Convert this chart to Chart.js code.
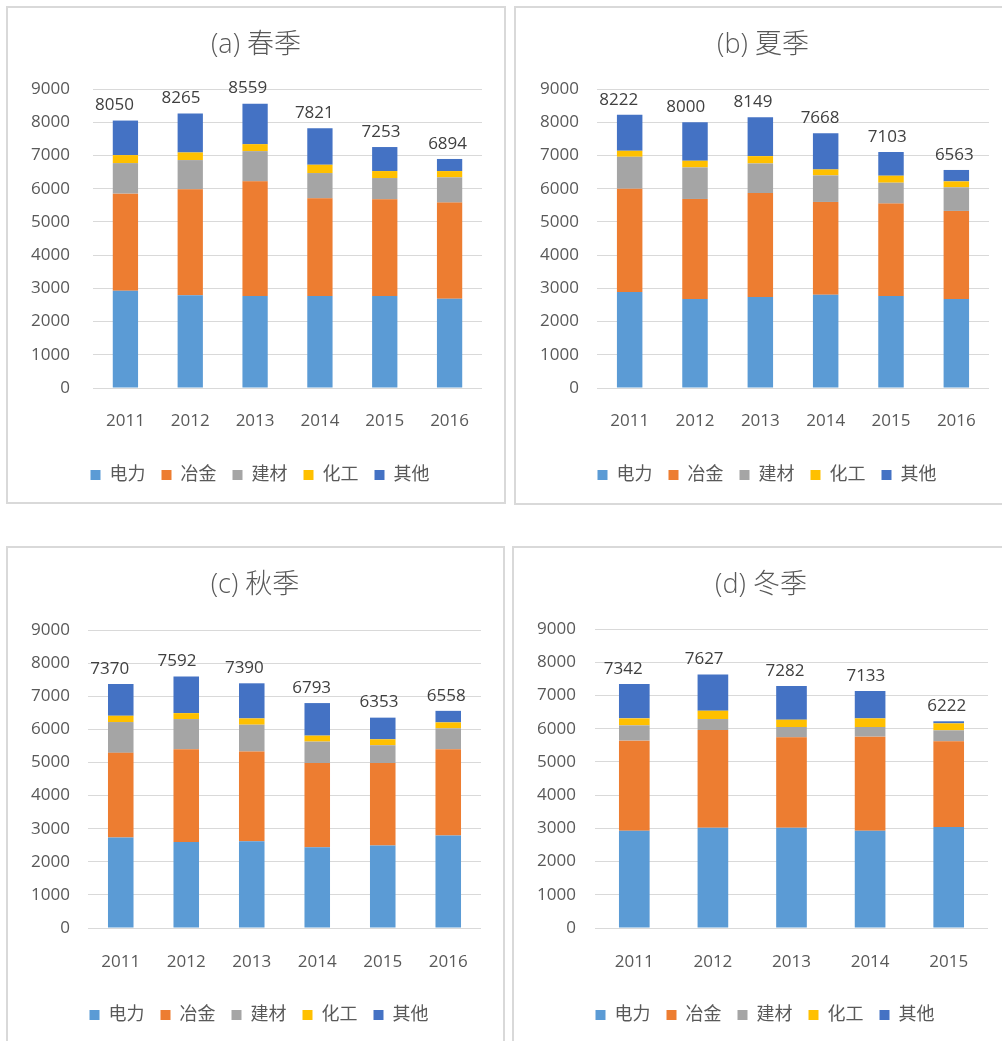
<!DOCTYPE html>
<html>
<head>
<meta charset="utf-8">
<script src="https://cdn.jsdelivr.net/npm/chart.js@4.4.1/dist/chart.umd.min.js"></script>
<style>
  html, body { margin: 0; padding: 0; background: #fff; overflow: hidden; }
  body { width: 1002px; height: 1041px; position: relative; }
  .panel { position: absolute; border: 2px solid #d9d9d9; box-sizing: border-box; }
  canvas { position: absolute; }
</style>
</head>
<body>
<div class="panel" id="boxA"></div>
<div class="panel" id="boxB"></div>
<div class="panel" id="boxC"></div>
<div class="panel" id="boxD"></div>
<canvas id="chartA"></canvas>
<canvas id="chartB"></canvas>
<canvas id="chartC"></canvas>
<canvas id="chartD"></canvas>
<script>
// categories
const years6 = ['2011', '2012', '2013', '2014', '2015', '2016'];
const years5 = ['2011', '2012', '2013', '2014', '2015'];
const sectors = ['电力', '冶金', '建材', '化工', '其他'];
const yTicks = [0, 1000, 2000, 3000, 4000, 5000, 6000, 7000, 8000, 9000];

// (a) 春季
const springPower = [2930, 2790, 2770, 2770, 2770, 2690];
const springMetal = [2920, 3190, 3450, 2940, 2910, 2890];
const springBuild = [920, 880, 910, 760, 640, 760];
const springChem  = [240, 230, 210, 250, 210, 190];
const springOther = [1040, 1175, 1219, 1101, 723, 364];

// (b) 夏季
const summerPower = [2890, 2680, 2740, 2810, 2770, 2680];
const summerMetal = [3110, 3010, 3130, 2790, 2780, 2650];
const summerBuild = [960, 950, 890, 800, 630, 710];
const summerChem  = [180, 200, 220, 180, 210, 180];
const summerOther = [1082, 1160, 1169, 1088, 713, 343];

// (c) 秋季
const autumnPower = [2730, 2600, 2620, 2440, 2490, 2790];
const autumnMetal = [2560, 2800, 2710, 2540, 2490, 2610];
const autumnBuild = [930, 910, 810, 650, 540, 630];
const autumnChem  = [190, 180, 190, 180, 180, 180];
const autumnOther = [960, 1102, 1060, 983, 653, 348];

// (d) 冬季
const winterPower = [2930, 3020, 3020, 2930, 3040];
const winterMetal = [2710, 2940, 2720, 2830, 2580];
const winterBuild = [460, 330, 310, 290, 330];
const winterChem  = [210, 250, 220, 260, 210];
const winterOther = [1032, 1087, 1012, 823, 62];

const colors = ['#5b9bd5', '#ed7d31', '#a5a5a5', '#ffc000', '#4472c4'];
const FONT = '"Open Sans", "Noto Sans CJK SC", sans-serif';
const TEXT = '#595959';

// stack totals written above each bar
const totalLabels = {
  id: 'totalLabels',
  afterDatasetsDraw(chart) {
    const ctx = chart.ctx;
    const sets = chart.data.datasets;
    const top = chart.getDatasetMeta(sets.length - 1);
    const n = chart.data.labels.length;
    ctx.save();
    ctx.font = '17px ' + FONT;
    ctx.fillStyle = '#404040';
    ctx.textAlign = 'center';
    ctx.textBaseline = 'middle';
    top.data.forEach((bar, i) => {
      const total = sets.reduce((s, d) => s + d.data[i], 0);
      const dx = -11 + 9 * i / (n - 1);
      ctx.fillText(String(total), bar.x + dx, bar.y - 15);
    });
    ctx.restore();
  }
};

// move the title and legend boxes sideways so they centre on a given x
function moveBox(b, x) {
  if (!b || x == null) return;
  const d = x - (b.left + b.right) / 2;
  b.left += d;
  b.right += d;
}
const centerShift = {
  id: 'centerShift',
  afterLayout(chart, args, opts) {
    moveBox(chart.titleBlock, opts.titleX);
    moveBox(chart.legend, opts.legendX);
  }
};

function drawPanel(p) {
  const box = document.getElementById(p.box);
  box.style.left = p.rect[0] + 'px';
  box.style.top = p.rect[1] + 'px';
  box.style.width = p.rect[2] + 'px';
  box.style.height = p.rect[3] + 'px';

  const cl = p.rect[0] + 2, ct = p.rect[1] + 2;
  const cw = p.rect[2] - 4, ch = p.rect[3] - 4;
  const canvas = document.getElementById(p.canvas);
  canvas.style.left = cl + 'px';
  canvas.style.top = ct + 'px';
  canvas.width = cw;
  canvas.height = ch;

  // work out paddings so the plot area sits where it should
  const aL = p.area.l - cl, aR = p.area.r - cl, aT = p.area.t - ct, aB = p.area.b - ct;
  const padR = cw - aR;
  const padL = 0;
  const yW = aL - padL;
  const yPad = aL - (p.tickRight - cl);
  const titleSize = 27, titleLH = titleSize * 1.2;
  const tY = p.titleY + 2 - ct;
  const legSize = 18, legPad = 16;
  const legTop = (p.legendY + 2 - ct) - legPad - legSize / 2;
  const legH = legSize + legPad + 10;
  const xH = legTop - aB;
  const xPad = (p.xLabelY - p.area.b) - 17 * 1.2 / 2 - 7;

  const series = p.values;
  new Chart(canvas.getContext('2d'), {
    type: 'bar',
    data: {
      labels: p.labels,
      datasets: sectors.map((name, k) => ({
        label: name,
        data: series[k],
        backgroundColor: colors[k],
        borderWidth: 0,
        categoryPercentage: 1,
        barPercentage: 0.39
      }))
    },
    options: {
      responsive: false,
      animation: false,
      devicePixelRatio: 1,
      layout: { padding: { left: padL, right: padR, top: 0, bottom: ch - legTop - legH } },
      plugins: {
        centerShift: { titleX: p.titleX - cl, legendX: p.legendX - cl },
        title: {
          display: true,
          text: p.title,
          color: TEXT,
          font: { size: titleSize, family: FONT, weight: '300', lineHeight: 1.2 },
          padding: { top: tY - titleLH / 2, bottom: aT - tY - titleLH / 2 }
        },
        legend: {
          position: 'bottom',
          labels: {
            boxWidth: 10,
            boxHeight: 10,
            padding: legPad,
            color: TEXT,
            font: { size: legSize, family: FONT }
          }
        },
        tooltip: { enabled: false }
      },
      scales: {
        x: {
          stacked: true,
          grid: { display: false },
          border: { display: false },
          ticks: { color: TEXT, padding: xPad, font: { size: 17, family: FONT } },
          afterFit: (s) => { s.height = xH; }
        },
        y: {
          stacked: true,
          min: 0,
          max: 9000,
          afterBuildTicks: (s) => { s.ticks = yTicks.map(v => ({ value: v })); },
          grid: { color: '#d9d9d9', lineWidth: 1, drawTicks: false },
          border: { display: false },
          ticks: {
            color: TEXT,
            padding: yPad,
            font: { size: 17, family: FONT },
            callback: (v) => String(v)
          },
          afterFit: (s) => { s.width = yW; }
        }
      }
    },
    plugins: [totalLabels, centerShift]
  });
}

drawPanel({
  box: 'boxA', canvas: 'chartA', title: '(a) 春季', labels: years6,
  values: [springPower, springMetal, springBuild, springChem, springOther],
  rect: [6, 6, 500, 498], area: { l: 93, r: 482, t: 89, b: 388 },
  tickRight: 70, titleY: 43, xLabelY: 420, legendY: 473, titleX: 256, legendX: 260
});
drawPanel({
  box: 'boxB', canvas: 'chartB', title: '(b) 夏季', labels: years6,
  values: [summerPower, summerMetal, summerBuild, summerChem, summerOther],
  rect: [514, 6, 490, 499], area: { l: 597, r: 989, t: 89, b: 388 },
  tickRight: 579, titleY: 43, xLabelY: 420, legendY: 473, titleX: 763, legendX: 767
});
drawPanel({
  box: 'boxC', canvas: 'chartC', title: '(c) 秋季', labels: years6,
  values: [autumnPower, autumnMetal, autumnBuild, autumnChem, autumnOther],
  rect: [6, 546, 499, 500], area: { l: 88, r: 481, t: 630, b: 928 },
  tickRight: 70, titleY: 583, xLabelY: 961, legendY: 1013, titleX: 255, legendX: 259
});
drawPanel({
  box: 'boxD', canvas: 'chartD', title: '(d) 冬季', labels: years5,
  values: [winterPower, winterMetal, winterBuild, winterChem, winterOther],
  rect: [512, 546, 492, 500], area: { l: 595, r: 988, t: 629, b: 928 },
  tickRight: 576, titleY: 583, xLabelY: 961, legendY: 1013, titleX: 761, legendX: 765
});
</script>
</body>
</html>
